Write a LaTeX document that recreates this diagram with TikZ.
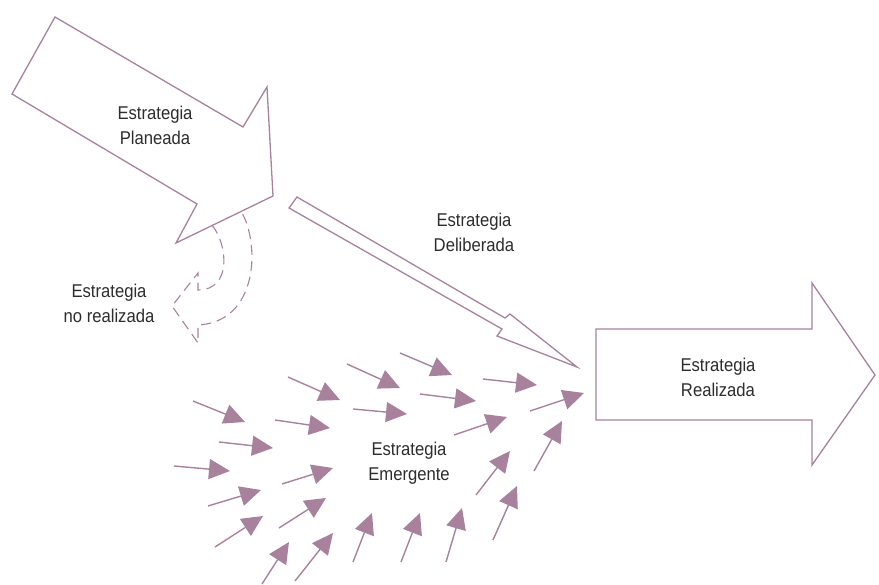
\documentclass[tikz,border=0pt]{standalone}
\usepackage{fontspec}
\setmainfont[FakeStretch=0.9]{Liberation Sans}
\usetikzlibrary{arrows.meta}
\definecolor{mauve}{RGB}{168,130,157}
\definecolor{txtgray}{RGB}{45,45,45}
\tikzset{
  outline/.style={draw=mauve,line width=1.3pt,line join=miter},
  flow/.style={draw=mauve,line width=1.4pt,-{Triangle[length=21pt,width=20pt]}},
  lbl/.style={text=txtgray,align=center,font=\fontsize{18.5}{25}\selectfont}
}
\begin{document}
\begin{tikzpicture}[x=1pt,y=-1pt]
  \useasboundingbox (0,0) rectangle (879,585);
  % planned strategy
  \draw[outline] (55,17) -- (243,127) -- (267,87) -- (273,196) -- (176,243) -- (197,204) -- (12,94) -- cycle;
  \node[lbl] (planeada) at (155,125) {Estrategia\\Planeada};
  % unrealised part, dashed
  \draw[outline,line width=1.1pt,dash pattern=on 10pt off 6pt]
    (212,225) .. controls (228,245) and (232,290) .. (198,290) -- (198,273) -- (172,306)
    -- (198,343) -- (198,325) .. controls (258,322) and (260,245) .. (242,213);
  \node[lbl] (norealizada) at (109,303) {Estrategia\\no realizada};
  % deliberate strategy
  \draw[outline] (297,197) -- (505,318) -- (510,314) -- (577,367) -- (497,336) -- (502,329) -- (289,208) -- cycle;
  \node[lbl] (deliberada) at (474,232) {Estrategia\\Deliberada};
  % realised strategy
  \draw[outline] (596,329) -- (812,329) -- (812,283) -- (875,375) -- (812,465) -- (812,420) -- (596,420) -- cycle;
  \node[lbl] (realizada) at (718,377) {Estrategia\\Realizada};
  % emergent strategy
  \node[lbl] (emergente) at (409,463) {Estrategia\\Emergente};
  \foreach \xa/\ya/\xb/\yb in {193/401/245/422, 288/377/340/400, 347/364/400/388, 400/353/452/375,
                     275/420/330/428, 353/409/407/414, 420/394/476/401, 483/379/537/385,
                     219/442/273/448, 174/466/230/471, 282/484/333/468, 208/506/261/490,
                     215/547/263/516, 279/528/326/498, 262/584/289/542, 295/581/333/533,
                     353/562/372/513, 401/562/420/513, 446/562/462/508, 493/540/517/486,
                     476/495/510/451, 534/471/562/421, 454/435/507/417, 530/411/584/393}
    \draw[flow] (\xa,\ya) -- (\xb,\yb);
\end{tikzpicture}
\end{document}
